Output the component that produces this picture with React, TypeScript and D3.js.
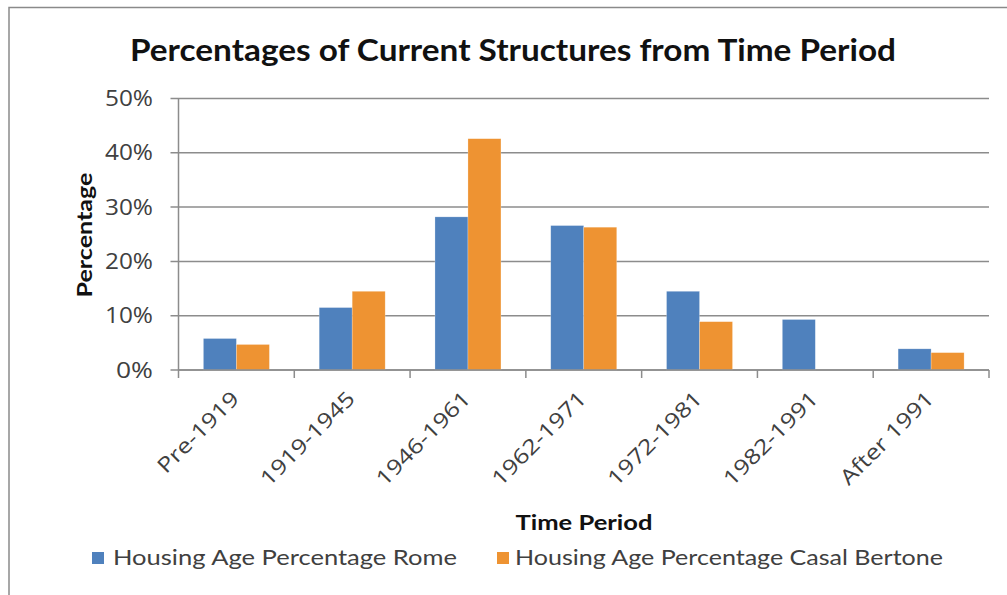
import React from "react";
import * as d3 from "d3";

const categories = ["Pre-1919", "1919-1945", "1946-1961", "1962-1971", "1972-1981", "1982-1991", "After 1991"];
const romeValues = [5.8, 11.5, 28.2, 26.6, 14.5, 9.3, 3.9];
const casalBertoneValues = [4.7, 14.5, 42.6, 26.3, 8.9, 0, 3.2];
const seriesNames = ["Housing Age Percentage Rome", "Housing Age Percentage Casal Bertone"];
const seriesColors = ["#4F81BD", "#EE9332"];
const yTicks = [0, 10, 20, 30, 40, 50];

const W = 1007;
const H = 595;
const plot = { left: 178.5, right: 989, top: 98.5, bottom: 370 };
const FONT = "Lato, 'Open Sans', sans-serif";
const LABEL_FONT = "'Open Sans', Lato, sans-serif";

export default function App() {
  const x0 = d3.scaleBand<string>().domain(categories).range([plot.left, plot.right]).paddingInner(0.43).paddingOuter(0.215);
  const band = d3.scaleBand<string>().domain(categories).range([plot.left, plot.right]);
  const x1 = d3.scaleBand<number>().domain([0, 1]).range([0, x0.bandwidth()]).padding(0);
  const y = d3.scaleLinear().domain([0, 50]).range([plot.bottom, plot.top]);
  const series = [romeValues, casalBertoneValues];
  const gridColor = "#8C8C8C";
  const textColor = "#404040";

  return (
    <div style={{ position: "fixed", left: 0, top: 0 }}>
      <svg width={W} height={H} style={{ display: "block", background: "#fff" }}>
        <rect x={9} y={7.5} width={W + 10} height={H + 10} fill="#fff" stroke="#8a8a8a" strokeWidth={1.5} />

        <text x={513} y={61} textAnchor="middle" fontFamily={FONT} fontWeight={700} fontSize={30} fill="#111"
          textLength={766} lengthAdjust="spacingAndGlyphs">
          Percentages of Current Structures from Time Period
        </text>

        {/* gridlines and y ticks */}
        {yTicks.map((t) => (
          <g key={t}>
            <line x1={plot.left - 8} x2={plot.right} y1={y(t)} y2={y(t)} stroke={gridColor} strokeWidth={1.5} />
            <text x={153} y={y(t) + 7.5} textAnchor="end" fontFamily={LABEL_FONT} fontSize={21} fill={textColor}
              textLength={t === 0 ? 37 : 48} lengthAdjust="spacingAndGlyphs">
              {t}%
            </text>
          </g>
        ))}

        {/* bars */}
        {categories.map((c, i) => (
          <g key={c} transform={`translate(${x0(c)},0)`}>
            {series.map((vals, s) =>
              vals[i] > 0 ? (
                <rect key={s} x={x1(s)} y={y(vals[i])} width={x1.bandwidth()} height={y(0) - y(vals[i])}
                  fill={seriesColors[s]} stroke="#fff" strokeOpacity={0.4} strokeWidth={0.6} />
              ) : null
            )}
          </g>
        ))}

        {/* axes */}
        <line x1={plot.left} x2={plot.left} y1={plot.top} y2={plot.bottom + 8} stroke={gridColor} strokeWidth={1.5} />
        <line x1={plot.left} x2={plot.right} y1={plot.bottom} y2={plot.bottom} stroke={gridColor} strokeWidth={1.5} />
        {categories.map((c) => (
          <line key={c} x1={(band(c) ?? 0) + band.bandwidth()} x2={(band(c) ?? 0) + band.bandwidth()}
            y1={plot.bottom} y2={plot.bottom + 8} stroke={gridColor} strokeWidth={1.5} />
        ))}

        {/* category labels */}
        {categories.map((c) => {
          const cx = (band(c) ?? 0) + band.bandwidth() / 2 + 4;
          return (
            <text key={c} transform={`translate(${cx},${400}) rotate(-45) scale(1.2,1)`} textAnchor="end"
              fontFamily={LABEL_FONT} fontSize={21} fill={textColor}>
              {c}
            </text>
          );
        })}

        <text transform={`translate(92,235) rotate(-90)`} textAnchor="middle" fontFamily={FONT} fontWeight={700}
          fontSize={20} fill="#111" textLength={125} lengthAdjust="spacingAndGlyphs">
          Percentage
        </text>

        <text x={584} y={530} textAnchor="middle" fontFamily={FONT} fontWeight={700} fontSize={20} fill="#111"
          textLength={137} lengthAdjust="spacingAndGlyphs">
          Time Period
        </text>

        {/* legend */}
        <rect x={92} y={552} width={12} height={12} fill={seriesColors[0]} />
        <text x={113} y={565} fontFamily={FONT} fontSize={21} fill={textColor} textLength={344} lengthAdjust="spacingAndGlyphs">
          {seriesNames[0]}
        </text>
        <rect x={497} y={552} width={12} height={12} fill={seriesColors[1]} />
        <text x={515} y={565} fontFamily={FONT} fontSize={21} fill={textColor} textLength={428} lengthAdjust="spacingAndGlyphs">
          {seriesNames[1]}
        </text>
      </svg>
    </div>
  );
}
